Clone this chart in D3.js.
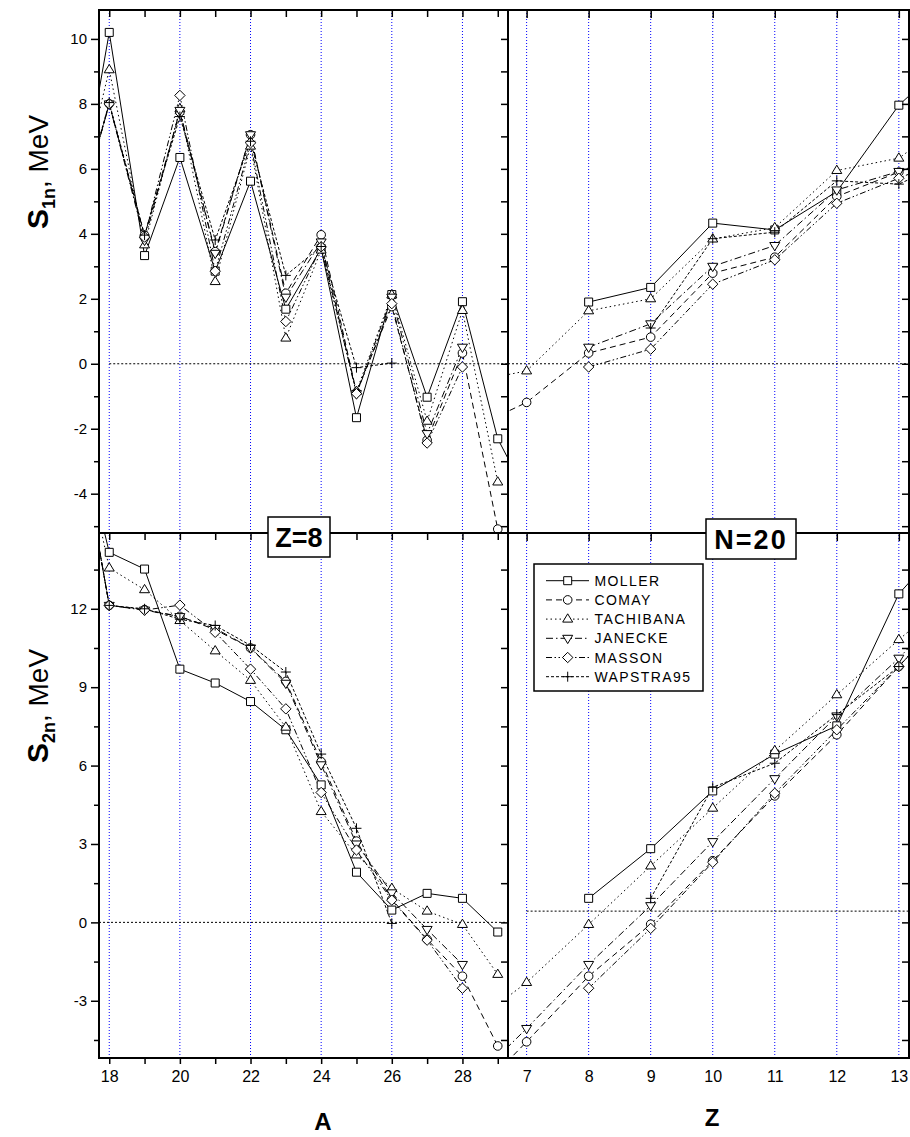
<!DOCTYPE html>
<html>
<head>
<meta charset="utf-8">
<script src="https://cdn.jsdelivr.net/npm/d3@7"></script>
<style>
  html, body { margin: 0; padding: 0; background: #fff; }
  svg { display: block; }
  text { font-family: "Liberation Sans", Arial, sans-serif; fill: #000; }
</style>
</head>
<body>
<svg id="chart" width="910" height="1137"></svg>
<script>
// ---------------- data ----------------
// Oxygen chain (Z=8): mass numbers; N=20 chain: proton numbers
const massNumbers   = [17, 18, 19, 20, 21, 22, 23, 24, 25, 26, 27, 28, 29, 30];
const protonNumbers = [6, 7, 8, 9, 10, 11, 12, 13, 14];

const seriesNames = ["MOLLER", "COMAY", "TACHIBANA", "JANECKE", "MASSON", "WAPSTRA95"];

// One-neutron separation energy S1n (MeV), Z=8, indexed by massNumbers
const s1nZ8Moller   = [4.0, 10.2, 3.33, 6.35, 2.85, 5.62, 1.68, 3.55, -1.66, 2.13, -1.03, 1.91, -2.31, -4.4];
const s1nZ8Comay    = [4.1, 8.0, 3.95, 7.75, 3.45, 7.05, 2.17, 3.97, -0.88, 1.76, -2.35, 0.33, -5.09, null];
const s1nZ8Tachibana= [4.5, 9.05, 3.66, 7.85, 2.53, 6.7, 0.79, 3.5, -0.85, 2.12, -1.77, 1.64, -3.64, null];
const s1nZ8Janecke  = [4.1, 8.0, 3.8, 7.8, 3.4, 7.05, 2.05, 3.75, -0.92, 2.05, -2.15, 0.51, null, null];
const s1nZ8Masson   = [4.1, 8.0, 3.9, 8.26, 2.85, 6.8, 1.3, 3.6, -0.92, 1.85, -2.44, -0.10, null, null];
const s1nZ8Wapstra  = [4.14, 8.04, 3.96, 7.61, 3.81, 6.85, 2.72, 3.61, -0.12, 0.02, null, null, null, null];

// Two-neutron separation energy S2n (MeV), Z=8, indexed by massNumbers
const s2nZ8Moller   = [19.8, 14.16, 13.52, 9.69, 9.16, 8.45, 7.37, 5.26, 1.92, 0.47, 1.11, 0.92, -0.37, null];
const s2nZ8Comay    = [19.8, 12.13, 11.97, 11.71, 11.2, 10.5, 9.22, 6.15, 3.11, 0.88, -0.65, -2.06, -4.73, null];
const s2nZ8Tachibana= [19.8, 13.56, 12.73, 11.55, 10.39, 9.26, 7.47, 4.24, 2.58, 1.30, 0.43, -0.08, -1.99, null];
const s2nZ8Janecke  = [19.8, 12.13, 11.95, 11.7, 11.25, 10.5, 9.15, 6.03, 3.0, 1.13, -0.27, -1.61, null, null];
const s2nZ8Masson   = [19.8, 12.13, 11.95, 12.14, 11.1, 9.69, 8.17, 4.97, 2.77, 0.85, -0.68, -2.52, null, null];
const s2nZ8Wapstra  = [19.8, 12.13, 12.0, 11.6, 11.36, 10.6, 9.58, 6.44, 3.6, -0.04, null, null, null, null];

// S1n (MeV), N=20, indexed by protonNumbers
const s1nN20Moller   = [null, null, 1.90, 2.35, 4.33, 4.12, 5.3, 7.96, 9.7];
const s1nN20Comay    = [-2.1, -1.19, 0.33, 0.82, 2.79, 3.28, 5.15, 5.9, 6.7];
const s1nN20Tachibana= [-0.6, -0.22, 1.63, 2.0, 3.84, 4.19, 5.95, 6.33, 7.7];
const s1nN20Janecke  = [null, null, 0.51, 1.23, 3.0, 3.64, 5.35, 5.92, 6.6];
const s1nN20Masson   = [null, null, -0.10, 0.45, 2.45, 3.2, 4.94, 5.71, 6.5];
const s1nN20Wapstra  = [null, null, null, 1.1, 3.85, 4.05, 5.63, 5.53, 6.4];

// S2n (MeV), N=20, indexed by protonNumbers
const s2nN20Moller   = [null, null, 0.92, 2.82, 5.03, 6.44, 7.52, 12.57, 15.2];
const s2nN20Comay    = [-7.0, -4.57, -2.06, -0.07, 2.36, 4.84, 7.18, 9.79, 12.5];
const s2nN20Tachibana= [-4.1, -2.30, -0.08, 2.16, 4.37, 6.57, 8.71, 10.82, 12.8];
const s2nN20Janecke  = [-6.4, -4.06, -1.61, 0.64, 3.09, 5.5, 7.9, 10.11, 12.6];
const s2nN20Masson   = [null, null, -2.52, -0.23, 2.30, 4.94, 7.37, 9.79, 12.3];
const s2nN20Wapstra  = [null, null, null, 0.92, 5.17, 6.09, 7.95, 9.79, 12.4];

// Axis tick values and labels
const s1nMajorTicks = [-4, -2, 0, 2, 4, 6, 8, 10];
const s1nMinorTicks = [-5, -3, -1, 1, 3, 5, 7, 9];
const s2nMajorTicks = [-3, 0, 3, 6, 9, 12];
const s2nMinorTicks = [-4.5, -1.5, 1.5, 4.5, 7.5, 10.5, 13.5];
const massTicks     = [18, 19, 20, 21, 22, 23, 24, 25, 26, 27, 28, 29];
const massGrid      = [18, 20, 22, 24, 26, 28];
const protonTicks   = [7, 8, 9, 10, 11, 12, 13];

// Horizontal reference levels (MeV) and where they start on the x axis
const refLevels = [0, 0, 0, 0.43];
const refStarts = [18, null, null, 7];

// ---------------- layout ----------------
const L = 99, M = 508, R = 910, T = 10, MY = 533, B = 1058;

const xA = d3.scaleLinear().domain([17.71, 29.29]).range([L, M]);
const xZ = d3.scaleLinear().domain([6.70, 13.18]).range([M, R]);
const yTop = d3.scaleLinear().domain([-5.21, 10.89]).range([MY, T]);
const yBot = d3.scaleLinear().domain([-5.19, 14.9]).range([B, MY]);

const dashes = [null, "6,4", "1.5,3", "7,3,1.5,3", "6,2.5,1.5,2.5,1.5,2.5", "3,2"];

const symbols = [
  "M-4,-4H4V4H-4Z",
  "M4.3,0A4.3,4.3 0 1,1 -4.3,0A4.3,4.3 0 1,1 4.3,0Z",
  "M0,-5.3L5,3L-5,3Z",
  "M0,5.3L5,-3L-5,-3Z",
  "M0,-5.2L5.2,0L0,5.2L-5.2,0Z",
  "M-5,0H5M0,-5V5"
];

const svg = d3.select("#chart");

const panels = [
  { id: "p1", x: xA, y: yTop, xs: massNumbers,
    series: [s1nZ8Moller, s1nZ8Comay, s1nZ8Tachibana, s1nZ8Janecke, s1nZ8Masson, s1nZ8Wapstra] },
  { id: "p2", x: xZ, y: yTop, xs: protonNumbers,
    series: [s1nN20Moller, s1nN20Comay, s1nN20Tachibana, s1nN20Janecke, s1nN20Masson, s1nN20Wapstra] },
  { id: "p3", x: xA, y: yBot, xs: massNumbers,
    series: [s2nZ8Moller, s2nZ8Comay, s2nZ8Tachibana, s2nZ8Janecke, s2nZ8Masson, s2nZ8Wapstra] },
  { id: "p4", x: xZ, y: yBot, xs: protonNumbers,
    series: [s2nN20Moller, s2nN20Comay, s2nN20Tachibana, s2nN20Janecke, s2nN20Masson, s2nN20Wapstra] }
];

// clip regions
const defs = svg.append("defs");
panels.forEach(p => {
  const [x0, x1] = p.x.range();
  const [y1, y0] = p.y.range();
  defs.append("clipPath").attr("id", "clip-" + p.id)
    .append("rect").attr("x", x0).attr("y", y0).attr("width", x1 - x0).attr("height", y1 - y0);
});

// vertical blue dotted grid lines through both rows
const grid = svg.append("g");
massGrid.forEach(a => grid.append("line")
  .attr("x1", xA(a)).attr("x2", xA(a)).attr("y1", T).attr("y2", B)
  .attr("stroke", "#0000ff").attr("stroke-width", 1).attr("stroke-dasharray", "1,2"));
protonTicks.forEach(z => grid.append("line")
  .attr("x1", xZ(z)).attr("x2", xZ(z)).attr("y1", T).attr("y2", B)
  .attr("stroke", "#0000ff").attr("stroke-width", 1).attr("stroke-dasharray", "1,2"));

// reference lines
panels.forEach((p, i) => {
  const x0 = refStarts[i] == null ? p.x.range()[0] : p.x(refStarts[i]);
  svg.append("line")
    .attr("x1", x0).attr("x2", p.x.range()[1])
    .attr("y1", p.y(refLevels[i])).attr("y2", p.y(refLevels[i]))
    .attr("stroke", "#000").attr("stroke-width", 1).attr("stroke-dasharray", "2,2");
});

// series lines and markers
panels.forEach(p => {
  const g = svg.append("g").attr("clip-path", `url(#clip-${p.id})`);
  const line = d3.line().x(d => p.x(d[0])).y(d => p.y(d[1]));
  p.series.forEach((vals, s) => {
    const pts = p.xs.map((x, j) => [x, vals[j]]).filter(d => d[1] != null);
    g.append("path").attr("d", line(pts))
      .attr("fill", "none").attr("stroke", "#000").attr("stroke-width", 1)
      .attr("stroke-dasharray", dashes[s]);
  });
  p.series.forEach((vals, s) => {
    const pts = p.xs.map((x, j) => [x, vals[j]]).filter(d => d[1] != null);
    g.selectAll(null).data(pts).enter().append("path")
      .attr("d", symbols[s])
      .attr("transform", d => `translate(${p.x(d[0])},${p.y(d[1])})`)
      .attr("fill", s === 5 ? "none" : "#fff")
      .attr("stroke", "#000").attr("stroke-width", 1);
  });
});

// ---------------- axes ----------------
const noDomain = g => g.select(".domain").remove();
const strip = g => { g.select(".domain").remove(); g.selectAll(".tick line").attr("stroke-width", 1.5); };
const hyphen = d => String(d);

// left (outer) axes with labels
function leftAxis(y, major, minor) {
  svg.append("g").attr("transform", `translate(${L},0)`)
    .call(d3.axisLeft(y).tickValues(major).tickSize(8).tickPadding(4).tickFormat(hyphen))
    .call(strip)
    .call(g => g.selectAll("text").attr("font-size", 15).attr("font-family", '"Liberation Sans", Arial, sans-serif'));
  svg.append("g").attr("transform", `translate(${L},0)`)
    .call(d3.axisLeft(y).tickValues(minor).tickSize(5).tickFormat(""))
    .call(strip);
}
leftAxis(yTop, s1nMajorTicks, s1nMinorTicks);
leftAxis(yBot, s2nMajorTicks, s2nMinorTicks);

// inner right-side ticks for both columns
[M, R - 1].forEach(xp => {
  [[yTop, s1nMajorTicks.concat(s1nMinorTicks)], [yBot, s2nMajorTicks.concat(s2nMinorTicks)]].forEach(([y, vals]) => {
    svg.append("g").attr("transform", `translate(${xp},0)`)
      .call(d3.axisLeft(y).tickValues(vals).tickSize(7).tickFormat(""))
      .call(strip);
  });
});

// inner top ticks of each row
[T, MY].forEach(yp => {
  svg.append("g").attr("transform", `translate(0,${yp})`)
    .call(d3.axisBottom(xA).tickValues(massTicks).tickSize(7).tickFormat(""))
    .call(strip);
  svg.append("g").attr("transform", `translate(0,${yp})`)
    .call(d3.axisBottom(xZ).tickValues(protonTicks).tickSize(8).tickFormat(""))
    .call(strip);
});

// bottom axes with labels
svg.append("g").attr("transform", `translate(0,${B})`)
  .call(d3.axisBottom(xA).tickValues(massTicks).tickSize(6).tickPadding(7)
    .tickFormat(d => d % 2 === 0 ? String(d) : ""))
  .call(strip)
  .call(g => g.selectAll("text").attr("font-size", 16));
svg.append("g").attr("transform", `translate(0,${B})`)
  .call(d3.axisBottom(xZ).tickValues(protonTicks).tickSize(0).tickPadding(13).tickFormat(hyphen))
  .call(noDomain)
  .call(g => g.selectAll("text").attr("font-size", 16));

// frame
const frame = svg.append("g").attr("fill", "none").attr("stroke", "#000").attr("stroke-width", 2);
frame.append("rect").attr("x", L).attr("y", T).attr("width", R - 1 - L).attr("height", B - T);
frame.append("line").attr("x1", M).attr("x2", M).attr("y1", T).attr("y2", B);
frame.append("line").attr("x1", L).attr("x2", R).attr("y1", MY).attr("y2", MY);

// ---------------- titles ----------------
function yTitle(cy, sub) {
  const t = svg.append("text")
    .attr("transform", `translate(48,${cy}) rotate(-90)`)
    .attr("text-anchor", "middle");
  t.append("tspan").attr("font-weight", "bold").attr("font-size", 30).text("S");
  t.append("tspan").attr("font-weight", "bold").attr("font-size", 18).attr("dy", 7).text(sub);
  t.append("tspan").attr("font-size", 28).attr("dy", -7).text(", MeV");
}
yTitle(172, "1n");
yTitle(706, "2n");

svg.append("text").attr("x", 323).attr("y", 1130).attr("text-anchor", "middle")
  .attr("font-weight", "bold").attr("font-size", 24).text("A");
svg.append("text").attr("x", 712).attr("y", 1126).attr("text-anchor", "middle")
  .attr("font-weight", "bold").attr("font-size", 24).text("Z");

// chain labels
function chainBox(x, y, w, h, label, spacing) {
  svg.append("rect").attr("x", x).attr("y", y).attr("width", w).attr("height", h)
    .attr("fill", "#fff").attr("stroke", "#000").attr("stroke-width", 1.5);
  svg.append("text").attr("x", x + w / 2).attr("y", y + h / 2 + 10)
    .attr("text-anchor", "middle").attr("font-weight", "bold").attr("font-size", 27)
    .attr("letter-spacing", spacing).text(label);
}
chainBox(268, 517, 62, 40, "Z=8", 0);
chainBox(706, 519, 90, 40, "N=20", 2);

// legend
const lg = svg.append("g");
lg.append("rect").attr("x", 534).attr("y", 564).attr("width", 169).attr("height", 127)
  .attr("fill", "#fff").attr("stroke", "#000").attr("stroke-width", 1.5);
seriesNames.forEach((name, s) => {
  const yy = 580.7 + s * 19.2;
  lg.append("line").attr("x1", 546).attr("x2", 589).attr("y1", yy).attr("y2", yy)
    .attr("stroke", "#000").attr("stroke-width", 1).attr("stroke-dasharray", dashes[s]);
  lg.append("path").attr("d", symbols[s]).attr("transform", `translate(567.7,${yy})`)
    .attr("fill", s === 5 ? "none" : "#fff").attr("stroke", "#000").attr("stroke-width", 1);
  lg.append("text").attr("x", 594.5).attr("y", yy + 5).attr("font-size", 14)
    .attr("letter-spacing", 1.4).text(name);
});
</script>
</body>
</html>
